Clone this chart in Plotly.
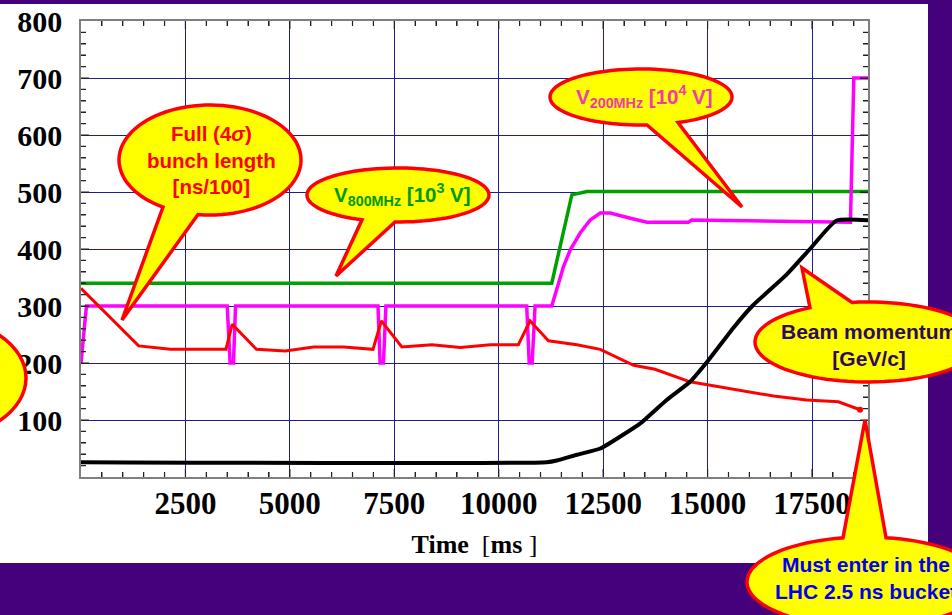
import math
import plotly.graph_objects as go

# ---------------- data ----------------
time_v800 = [0, 11270, 11750, 12110, 18900]
v800 = [340, 340, 495, 501, 501]

time_v200 = [0, 130, 3500, 3570, 3650, 3700, 7110, 7160, 7240, 7300,
             10670, 10730, 10800, 10870, 11270, 11390, 11550, 11710, 11950,
             12190, 12430, 12670, 12900, 13150, 13550, 14540, 14620, 18420,
             18500, 18900]
v200 = [200, 300, 300, 200, 200, 300, 300, 200, 200, 300,
        300, 200, 200, 300, 300, 328, 369, 398, 428,
        451, 463, 463, 458, 454, 447, 447, 451, 447,
        700, 700]

time_bunch = [0, 1380, 2140, 3470, 3620, 4200, 4890, 5570, 6290, 6990, 7190,
              7680, 8400, 9080, 9800, 10470, 10750, 11190, 11870, 12430,
              13230, 13740, 14580, 15140, 15860, 16580, 17370, 18130, 18650]
bunch = [331, 230, 224, 224, 268, 224, 221, 228, 228, 224, 274,
         228, 232, 227, 232, 232, 274, 239, 232, 224,
         196, 189, 167, 160, 151, 142, 135, 132, 118]

time_mom = [0, 11150, 11390, 11870, 12430, 12910, 13390, 14020, 14580, 15000,
            15620, 16070, 16890, 17450, 18090, 18900]
momentum = [26, 26, 29, 39, 50, 71, 94, 135, 167, 203,
            262, 300, 355, 400, 450, 450]

x_ticks = [2500, 5000, 7500, 10000, 12500, 15000, 17500]
y_ticks = [100, 200, 300, 400, 500, 600, 700, 800]
x_range = [0, 18840]
y_range = [0, 800]
x_minor, y_minor = 500, 20

# ---------------- figure ----------------
W, H = 952, 615
ML, MR, MT, MB = 81, 84, 21, 138
PW, PH = W - ML - MR, H - MT - MB
PURPLE = "#45017B"


def px(xp):
    return (xp - ML) / PW


def py(yp):
    return (H - MB - yp) / PH


fig = go.Figure()
fig.add_trace(go.Scatter(x=time_v800, y=v800, mode="lines",
                         line=dict(color="#00A000", width=3.5), showlegend=False))
fig.add_trace(go.Scatter(x=time_v200, y=v200, mode="lines",
                         line=dict(color="#FF00FF", width=3.5), showlegend=False))
fig.add_trace(go.Scatter(x=time_bunch, y=bunch, mode="lines",
                         line=dict(color="#FF0000", width=3), showlegend=False))
fig.add_trace(go.Scatter(x=[time_bunch[-1]], y=[bunch[-1]], mode="markers",
                         marker=dict(color="#FF0000", size=6), showlegend=False))
fig.add_trace(go.Scatter(x=time_mom, y=momentum, mode="lines",
                         line=dict(color="#000000", width=4, shape="spline",
                                   smoothing=0.5),
                         showlegend=False))

shapes = []
# purple frame bands around the white page (outside the plot area)
for (x0, x1, y0, y1) in [(-10, 962, -10, 4), (928, 962, -10, 625), (-10, 962, 563, 625)]:
    shapes.append(dict(type="rect", xref="paper", yref="paper", layer="below",
                       x0=px(x0), x1=px(x1), y0=py(y1), y1=py(y0),
                       fillcolor=PURPLE, line=dict(width=0)))

# minor/major inside ticks on all four sides (positions via the axes' scales)
TICK_COLOR = "#222222"
tx = [v for v in range(x_minor, int(x_range[1]) + 1, x_minor)]
ty = [v for v in range(y_minor, int(y_range[1]), y_minor)]
lx_min, lx_maj = 5 / PH, 8 / PH
ly_min, ly_maj = 5 / PW, 8 / PW


def xlen(v):
    return lx_maj if v % x_ticks[0] == 0 else lx_min


def ylen(v):
    return ly_maj if v % y_ticks[0] == 0 else ly_min


bottom = " ".join(f"M {v},0 L {v},{xlen(v):.5f}" for v in tx)
top = " ".join(f"M {v},1 L {v},{1 - xlen(v):.5f}" for v in tx)
left = " ".join(f"M 0,{v} L {ylen(v):.5f},{v}" for v in ty)
right = " ".join(f"M 1,{v} L {1 - ylen(v):.5f},{v}" for v in ty)
for p in (bottom, top):
    shapes.append(dict(type="path", xref="x", yref="paper", layer="above", path=p,
                       line=dict(color=TICK_COLOR, width=1.2)))
for p in (left, right):
    shapes.append(dict(type="path", xref="paper", yref="y", layer="above", path=p,
                       line=dict(color=TICK_COLOR, width=1.2)))


def callout(cx, cy, rx, ry, bx1, bx2, side, tipx, tipy):
    def ang(bx):
        a = math.acos(max(-1, min(1, (bx - cx) / rx)))
        return a if side == "bottom" else -a
    t1, t2 = ang(bx1), ang(bx2)
    d = (t2 - t1) % (2 * math.pi)
    if d > math.pi:
        start, span = t1, d
    else:
        start, span = t2, 2 * math.pi - d
    n = 90
    pts = []
    for i in range(n + 1):
        t = start + span * i / n
        pts.append((cx + rx * math.cos(t), cy + ry * math.sin(t)))
    pts.append((tipx, tipy))
    path = "M " + " L ".join(f"{px(a):.5f},{py(b):.5f}" for a, b in pts) + " Z"
    return dict(type="path", xref="paper", yref="paper", layer="above",
                path=path, fillcolor="#FFFF00",
                line=dict(color="#FF0000", width=3.5))


shapes.append(callout(210, 160, 91, 55, 163, 198, "bottom", 122, 320))
shapes.append(callout(398, 195, 91, 27, 362, 395, "bottom", 336, 276))
shapes.append(callout(641, 97, 91, 28, 647, 678, "bottom", 742, 207))
shapes.append(callout(868, 342, 113, 40, 810, 852, "top", 802, 268))
shapes.append(callout(866, 582, 119, 45, 843, 886, "top", 865, 420))
# partially visible callout at the left edge
shapes.append(dict(type="circle", xref="paper", yref="paper", layer="above",
                   x0=px(-166), x1=px(26), y0=py(440), y1=py(316),
                   fillcolor="#FFFF00", line=dict(color="#FF0000", width=3.5)))

SANS = "Liberation Sans"
annotations = [
    dict(x=px(211), y=py(160), text="<b>Full (4<i>σ</i>)<br>bunch length<br>[ns/100]</b>",
         font=dict(family=SANS, size=20.5, color="#FF0000")),
    dict(x=px(402), y=py(195), text="<b>V<sub>800MHz</sub> [10<sup>3</sup> V]</b>",
         font=dict(family=SANS, size=20.5, color="#009900")),
    dict(x=px(644), y=py(97), text="<b>V<sub>200MHz</sub> [10<sup>4</sup> V]</b>",
         font=dict(family=SANS, size=20.5, color="#F03AAE")),
    dict(x=px(869), y=py(345), text="<b>Beam momentum<br>[GeV/c]</b>",
         font=dict(family=SANS, size=21, color="#2E0A5E")),
    dict(x=px(866), y=py(578), text="<b>Must enter in the<br>LHC 2.5 ns bucket</b>",
         font=dict(family=SANS, size=21, color="#0000EE")),
]
for a in annotations:
    a.update(xref="paper", yref="paper", showarrow=False,
             xanchor="center", yanchor="middle", align="center")

SERIF = "Liberation Serif"
axis_common = dict(
    showline=True, linecolor="#7F7F7F", linewidth=1.5, mirror="allticks",
    ticks="inside", ticklen=8, tickcolor=TICK_COLOR, tickwidth=1.2,
    showgrid=True, gridcolor="#1E1E8C", gridwidth=1, zeroline=False,
    automargin=False, tickmode="array",
)
minor_common = dict(tickmode="linear", tick0=0, ticks="inside", ticklen=5,
                    tickcolor=TICK_COLOR, tickwidth=1.2, showgrid=False)

fig.update_layout(
    width=W, height=H, autosize=False,
    margin=dict(l=ML, r=MR, t=MT, b=MB, pad=0),
    paper_bgcolor="white", plot_bgcolor="white",
    shapes=shapes, annotations=annotations,
    xaxis=dict(range=x_range, tickvals=x_ticks,
               ticktext=[f"<b>{v}</b>" for v in x_ticks],
               tickfont=dict(family=SERIF, size=31, color="black"),
               ticklabelstandoff=-2,
               minor=dict(dtick=x_minor, **minor_common),
               title=dict(text="<b>Time</b>\u00a0\u00a0[<b>ms</b>\u00a0]",
                          font=dict(family=SERIF, size=26, color="black"),
                          standoff=15),
               **axis_common),
    yaxis=dict(range=y_range, tickvals=y_ticks,
               ticktext=[f"<b>{v}</b>" for v in y_ticks],
               tickfont=dict(family=SERIF, size=30, color="black"),
               ticklabelstandoff=11,
               minor=dict(dtick=y_minor, **minor_common),
               **axis_common),
)

fig.write_html("out.html")
